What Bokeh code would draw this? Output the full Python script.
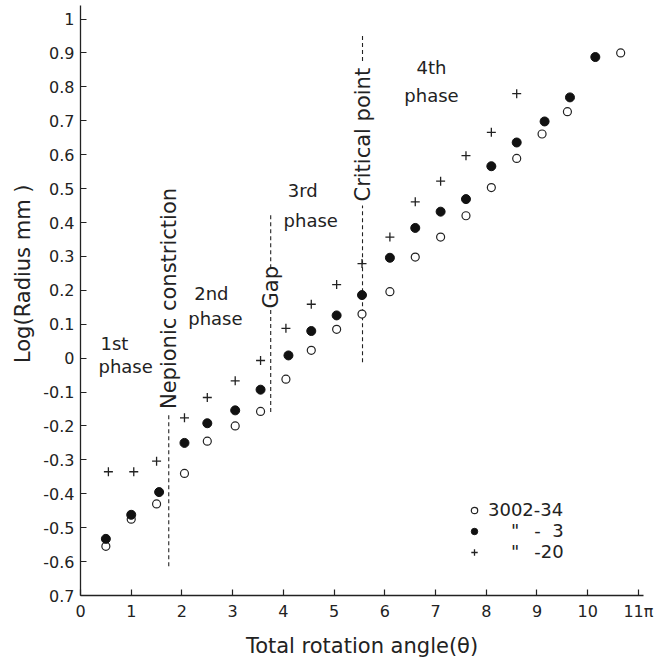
from math import pi
from bokeh.plotting import figure
from bokeh.models import FixedTicker, Label, Range1d
from bokeh.embed import file_html
from bokeh.resources import INLINE

FONT = "DejaVu Sans"

# ---- data ----
open_x = [0.5, 1.0, 1.5, 2.05, 2.5, 3.05, 3.55, 4.05, 4.55, 5.05, 5.55, 6.1, 6.6, 7.1, 7.6, 8.1, 8.6, 9.1, 9.6, 10.65]
open_y = [-0.555, -0.475, -0.43, -0.34, -0.245, -0.20, -0.157, -0.062, 0.023, 0.085, 0.13, 0.196, 0.298, 0.357, 0.42, 0.503, 0.589, 0.661, 0.727, 0.90]

filled_x = [0.5, 1.0, 1.55, 2.05, 2.5, 3.05, 3.55, 4.1, 4.55, 5.05, 5.55, 6.1, 6.6, 7.1, 7.6, 8.1, 8.6, 9.15, 9.65, 10.15]
filled_y = [-0.533, -0.462, -0.395, -0.25, -0.192, -0.154, -0.093, 0.008, 0.08, 0.126, 0.186, 0.296, 0.384, 0.432, 0.469, 0.566, 0.636, 0.698, 0.769, 0.888]

plus_x = [0.55, 1.05, 1.5, 2.05, 2.5, 3.05, 3.55, 4.05, 4.55, 5.05, 5.55, 6.1, 6.6, 7.1, 7.6, 8.1, 8.6]
plus_y = [-0.335, -0.335, -0.304, -0.176, -0.116, -0.067, -0.007, 0.088, 0.159, 0.217, 0.279, 0.357, 0.461, 0.522, 0.597, 0.666, 0.78]

series_labels = ["3002-34", "\u2007\u2007\"\u2007\u2009-\u20073", "\u2007\u2007\"\u2007\u2009-20"]

x_ticks = [0, 1, 2, 3, 4, 5, 6, 7, 8, 9, 10, 11]
x_tick_labels = ["0", "1", "2", "3", "4", "5", "6", "7", "8", "9", "10", "11\u03c0"]
y_ticks = [-0.7, -0.6, -0.5, -0.4, -0.3, -0.2, -0.1, 0, 0.1, 0.2, 0.3, 0.4, 0.5, 0.6, 0.7, 0.8, 0.9, 1]
y_tick_labels = ["0.7", "-0.6", "-0.5", "-0.4", "-0.3", "-0.2", "-0.1", "0", "0.1", "0.2", "0.3",
                 "0.4", "0.5", "0.6", "0.7", "0.8", "0.9", "1"]

# phase boundaries: (x, lower dash, upper dash) and their rotated captions
boundary_names = ["Nepionic constriction", "Gap", "Critical point"]
boundary_x = [1.74, 3.75, 5.56]
dash_x0 = [1.74, 3.75, 3.75, 5.56, 5.56]
dash_y0 = [-0.614, -0.159, 0.265, -0.012, 0.876]
dash_y1 = [-0.162, 0.15, 0.426, 0.45, 0.956]
caption_y = [0.176, 0.209, 0.659]

phase_text = ["1st", "phase", "2nd", "phase", "3rd", "phase", "4th", "phase"]
phase_x = [0.67, 0.89, 2.58, 2.66, 4.38, 4.54, 6.92, 6.92]
phase_y = [0.044, -0.026, 0.191, 0.118, 0.494, 0.406, 0.856, 0.774]

p = figure(width=660, height=660, x_range=Range1d(0, 11.1), y_range=Range1d(-0.7, 1.04),
           output_backend="svg", toolbar_location=None,
           min_border_left=80, min_border_right=17, min_border_top=5, min_border_bottom=64)

p.xgrid.visible = False
p.ygrid.visible = False
p.outline_line_color = None
p.background_fill_color = "white"
p.border_fill_color = "white"

for ax in (p.xaxis[0], p.yaxis[0]):
    ax.axis_line_color = "#222222"
    ax.axis_line_width = 1.3
    ax.major_tick_line_color = "#222222"
    ax.major_tick_line_width = 1.2
    ax.major_tick_in = 6
    ax.major_tick_out = 0
    ax.minor_tick_line_color = None
    ax.major_label_text_font = FONT
    ax.major_label_text_font_size = "16px"
    ax.major_label_text_color = "#222222"
    ax.major_label_standoff = 6
    ax.axis_label_text_font = FONT
    ax.axis_label_text_font_style = "normal"
    ax.axis_label_text_color = "#222222"

p.xaxis.ticker = FixedTicker(ticks=x_ticks)
p.xaxis.major_label_overrides = dict(zip(x_ticks, x_tick_labels))
p.yaxis.ticker = FixedTicker(ticks=y_ticks)
p.yaxis.major_label_overrides = dict(zip(y_ticks, y_tick_labels))

p.xaxis.axis_label = "Total rotation angle(\u03b8)"
p.xaxis.axis_label_text_font_size = "21px"
p.xaxis.axis_label_standoff = 10

p.yaxis.axis_label = "\u2007\u2007\u2007\u2007Log(Radius mm )"
p.yaxis.axis_label_text_font_size = "21px"
p.yaxis.axis_label_standoff = 5

# dashed phase boundaries
p.segment(x0=dash_x0, y0=dash_y0, x1=dash_x0, y1=dash_y1,
          line_color="#222222", line_width=1.1, line_dash="4 3")

for name, bx, cy in zip(boundary_names, boundary_x, caption_y):
    p.add_layout(Label(x=bx, y=cy, text=name, angle=pi / 2,
                       text_align="center", text_baseline="middle",
                       text_font=FONT, text_font_size="21px", text_color="#222222"))

for t, tx, ty in zip(phase_text, phase_x, phase_y):
    p.add_layout(Label(x=tx, y=ty, text=t, text_align="center", text_baseline="middle",
                       text_font=FONT, text_font_size="18px", text_color="#222222"))

# series
p.scatter(open_x, open_y, marker="circle", size=8, fill_color="white",
          line_color="#222222", line_width=1.2, legend_label=series_labels[0])
p.scatter(filled_x, filled_y, marker="circle", size=9, fill_color="#111111",
          line_color="#111111", legend_label=series_labels[1])
p.scatter(plus_x, plus_y, marker="cross", size=9, line_color="#222222",
          line_width=1.3, legend_label=series_labels[2])

lg = p.legend[0]
lg.location = (386, 33)
lg.background_fill_alpha = 0
lg.border_line_color = None
lg.padding = 0
lg.margin = 0
lg.spacing = -6
lg.glyph_width = 16
lg.glyph_height = 16
lg.label_height = 16
lg.label_standoff = 6
lg.label_text_font = FONT
lg.label_text_font_size = "18px"
lg.label_text_color = "#222222"

open("out.html", "w").write(file_html(p, INLINE))
